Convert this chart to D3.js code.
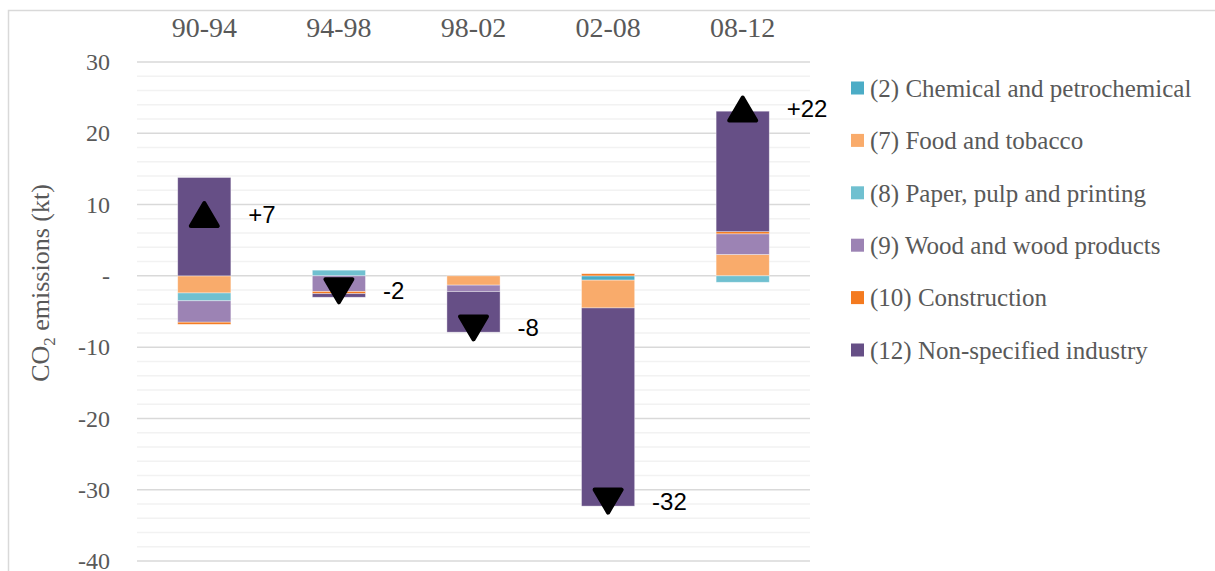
<!DOCTYPE html>
<html>
<head>
<meta charset="utf-8">
<script src="https://cdn.jsdelivr.net/npm/d3@7"></script>
<style>
  body { margin: 0; background: #fff; }
  text { font-family: "Liberation Serif", serif; fill: #595959; }
</style>
</head>
<body>
<div id="chart"></div>
<script>
// periods
const periods = ["90-94", "94-98", "98-02", "02-08", "08-12"];

// sector contributions (kt CO2)
const chemical = [0, 0, 0, -0.6, 0];
const food = [-2.4, 0, -1.3, -3.9, 3.0];
const paper = [-1.1, 0.8, 0, 0, -0.9];
const wood = [-3.0, -2.2, -0.9, 0, 2.9];
const construction = [-0.3, -0.3, 0, 0.3, 0.3];
const nonSpecified = [13.8, -0.5, -5.7, -27.8, 16.9];

// arrow markers and their labels
const markerValues = [8.6, -2.1, -7.3, -31.6, 23.4];
const totalLabels = ["+7", "-2", "-8", "-32", "+22"];

const seriesNames = [
  "(2) Chemical and petrochemical",
  "(7) Food and tobacco",
  "(8) Paper, pulp and printing",
  "(9) Wood and wood products",
  "(10) Construction",
  "(12) Non-specified industry"
];
const seriesValues = [chemical, food, paper, wood, construction, nonSpecified];
const yTicks = [30, 20, 10, 0, -10, -20, -30, -40];

const colors = ["#4bacc6", "#f9ab6b", "#70c0d0", "#9c83b4", "#f47a1f", "#664f86"];

const width = 1215, height = 571;

const svg = d3.select("#chart")
  .append("svg")
  .attr("width", width)
  .attr("height", height);

// chart border
svg.append("rect")
  .attr("x", 8.5).attr("y", 10.5)
  .attr("width", 1300).attr("height", 700)
  .attr("fill", "none")
  .attr("stroke", "#d9d9d9")
  .attr("stroke-width", 1.5);

var x = d3.scaleBand().domain(periods).range([137, 810]);
var y = d3.scaleLinear().domain([-40, 30]).range([561, 62]);
var barW = x.bandwidth() * 0.395;

// gridlines: minor every 2, major every 10
var minor = d3.range(-40, 31, 2).filter(function (v) { return v % 10 != 0; });
svg.append("g").selectAll("line")
  .data(minor).enter().append("line")
  .attr("x1", 137).attr("x2", 810)
  .attr("y1", function (d) { return y(d); })
  .attr("y2", function (d) { return y(d); })
  .attr("stroke", "#f2f2f2")
  .attr("stroke-width", 1.5);
svg.append("g").selectAll("line")
  .data(yTicks).enter().append("line")
  .attr("x1", 137).attr("x2", 810)
  .attr("y1", function (d) { return y(d); })
  .attr("y2", function (d) { return y(d); })
  .attr("stroke", "#d9d9d9")
  .attr("stroke-width", 1.5);

// stacked bars
var rows = periods.map(function (p, i) {
  var r = { period: p };
  seriesNames.forEach(function (s, j) { r[s] = seriesValues[j][i]; });
  return r;
});
var stack = d3.stack().keys(seriesNames).offset(d3.stackOffsetDiverging);
var layers = stack(rows);

svg.append("g").selectAll("g")
  .data(layers).enter().append("g")
  .attr("fill", function (d, i) { return colors[i]; })
  .selectAll("rect")
  .data(function (d) { return d; }).enter().append("rect")
  .attr("x", function (d) { return x(d.data.period) + x.bandwidth() / 2 - barW / 2; })
  .attr("width", barW)
  .attr("y", function (d) { return y(Math.max(d[0], d[1])); })
  .attr("height", function (d) { return Math.abs(y(d[0]) - y(d[1])); })
  .attr("stroke", "#ffffff")
  .attr("stroke-opacity", 0.5)
  .attr("stroke-width", 0.75);

// y axis
var yAxis = svg.append("g")
  .attr("transform", "translate(137,0)")
  .call(d3.axisLeft(y).tickValues(yTicks).tickSize(0).tickPadding(27)
    .tickFormat(function (d) { return d == 0 ? "-" : d; }));
yAxis.select(".domain").remove();
yAxis.selectAll("text")
  .style("font-family", "Liberation Serif, serif")
  .style("font-size", "24px")
  .attr("fill", "#595959");

// category labels on top
var xAxis = svg.append("g")
  .attr("transform", "translate(0,37)")
  .call(d3.axisTop(x).tickSize(0).tickPadding(0));
xAxis.select(".domain").remove();
xAxis.selectAll("text")
  .style("font-family", "Liberation Serif, serif")
  .style("font-size", "28px")
  .attr("fill", "#595959");

// axis title
var title = svg.append("text")
  .attr("transform", "translate(49,283) rotate(-90)")
  .attr("text-anchor", "middle")
  .style("font-size", "26px");
title.append("tspan").text("CO");
title.append("tspan").attr("dy", 6).style("font-size", "17px").text("2");
title.append("tspan").attr("dy", -6).text(" emissions (kt)");

// triangle markers
function triangle(up) {
  var w = 27, h = 23;
  var s = up ? 1 : -1;
  return "M0," + (-s * h / 2) + "L" + (w / 2) + "," + (s * h / 2) + "L" + (-w / 2) + "," + (s * h / 2) + "Z";
}
svg.append("g").selectAll("path")
  .data(markerValues).enter().append("path")
  .attr("d", function (d) { return triangle(d > 0); })
  .attr("transform", function (d, i) {
    return "translate(" + (x(periods[i]) + x.bandwidth() / 2) + "," + y(d) + ")";
  })
  .attr("fill", "#000")
  .attr("stroke", "#000")
  .attr("stroke-width", 4)
  .attr("stroke-linejoin", "round");

svg.append("g").selectAll("text")
  .data(totalLabels).enter().append("text")
  .attr("x", function (d, i) { return x(periods[i]) + x.bandwidth() / 2 + 44; })
  .attr("y", function (d, i) { return y(markerValues[i]); })
  .attr("dy", "0.35em")
  .style("font-family", "Liberation Sans, sans-serif")
  .style("font-size", "24px")
  .style("fill", "#000")
  .text(function (d) { return d; });

// legend
var legend = svg.append("g").selectAll("g")
  .data(seriesNames).enter().append("g")
  .attr("transform", function (d, i) { return "translate(851," + (88 + i * 52.4) + ")"; });
legend.append("rect")
  .attr("x", 0).attr("y", -6.5)
  .attr("width", 13).attr("height", 13)
  .attr("fill", function (d, i) { return colors[i]; });
legend.append("text")
  .attr("x", 19).attr("dy", "0.35em")
  .style("font-size", "25px")
  .text(function (d) { return d; });
</script>
</body>
</html>
